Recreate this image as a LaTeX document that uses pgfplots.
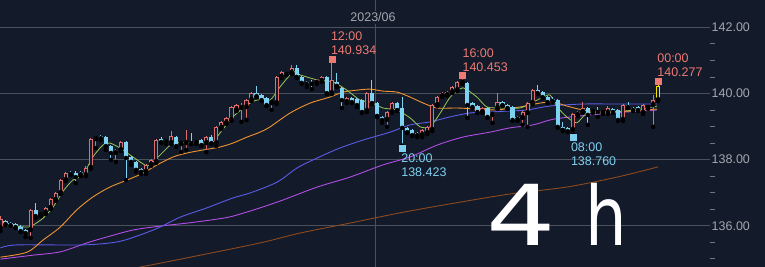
\documentclass[border=0pt]{standalone}
\usepackage{pgfplots}
\pgfplotsset{compat=1.18}
\usepackage{pgfplotstable}
\usepackage{fontspec}
\setmainfont{Liberation Sans}
\newfontfamily\dejavu{DejaVu Sans}
\definecolor{bgc}{HTML}{131A29}
\definecolor{gridc}{HTML}{4A505C}
\definecolor{tickc}{HTML}{70757F}
\definecolor{labc}{HTML}{A3A7AE}
\definecolor{bullc}{HTML}{DE6E6C}
\definecolor{bearc}{HTML}{7ED2F2}
\definecolor{hic}{HTML}{EE7A74}
\definecolor{loc}{HTML}{7FD0F0}
\definecolor{lastc}{HTML}{F0E400}
\definecolor{ma1}{HTML}{95C957}
\definecolor{ma2}{HTML}{F0942F}
\definecolor{ma3}{HTML}{5B5CE8}
\definecolor{ma4}{HTML}{B24DE6}
\definecolor{ma5}{HTML}{8E4A1E}
\newcommand{\lbl}{\fontsize{12.5}{15}\selectfont}

\pgfplotstableread{
k o h l c
0 135.93 136.29 135.84 136.20
6 135.87 136.51 135.63 136.48
8 136.32 136.42 136.29 136.39
9 136.39 136.57 136.35 136.54
10 136.54 136.84 136.51 136.81
11 136.78 137.02 136.75 136.99
12 136.99 137.41 136.96 137.38
13 137.38 137.63 137.35 137.59
17 137.53 137.81 137.50 137.75
18 137.75 138.65 137.72 138.62
19 138.62 138.71 138.35 138.68
23 138.20 138.32 137.93 138.29
24 138.29 138.56 138.26 138.53
29 137.63 137.87 137.56 137.84
30 137.84 138.02 137.81 137.99
31 137.93 138.62 137.90 138.59
34 138.50 138.86 138.47 138.71
36 138.47 138.56 138.23 138.53
37 138.50 138.90 138.29 138.53
39 138.50 138.59 138.47 138.56
41 138.50 138.71 138.23 138.68
43 138.50 139.02 138.41 138.99
44 138.96 139.17 138.93 139.14
45 139.11 139.29 139.08 139.26
46 139.20 139.62 139.17 139.59
47 139.50 139.68 139.47 139.65
48 139.56 139.71 139.14 139.59
49 139.59 139.83 139.20 139.80
50 139.80 140.04 139.77 140.01
54 139.71 139.77 139.50 139.74
55 139.71 140.53 139.68 140.50
56 140.50 140.68 140.47 140.65
58 140.62 140.86 140.59 140.77
63 140.32 140.44 140.29 140.41
64 140.38 140.53 140.35 140.50
66 140.01 140.934 139.98 140.41
69 139.74 139.89 139.71 139.86
73 139.47 140.04 139.44 140.01
77 139.20 139.47 138.99 139.44
78 139.44 139.74 139.41 139.71
84 138.74 138.93 138.68 138.90
85 138.80 139.02 138.77 138.99
86 138.90 139.68 138.86 139.65
87 139.65 139.92 139.62 139.89
88 139.92 140.04 139.89 140.01
89 139.95 140.07 139.92 140.04
90 140.04 140.23 140.01 140.20
91 140.10 140.38 140.07 140.35
92 140.32 140.453 140.29 140.38
96 139.44 139.59 139.41 139.56
98 139.35 139.44 139.11 139.41
99 139.56 140.01 139.53 139.74
103 139.20 139.32 139.17 139.29
104 139.26 139.47 139.05 139.44
105 139.41 139.74 138.99 139.71
106 139.71 140.13 139.68 140.10
114 138.90 139.41 138.760 139.38
115 139.35 139.47 139.32 139.44
116 139.44 139.74 139.41 139.56
118 139.44 139.53 139.41 139.50
120 139.41 139.50 139.38 139.47
121 139.41 139.62 139.38 139.56
124 139.20 139.68 139.17 139.65
128 139.41 139.68 139.38 139.65
129 139.56 139.62 139.53 139.59
130 139.65 139.95 138.99 139.80
}\bull

\pgfplotstableread{
k o h l c
1 136.14 136.17 136.02 136.05
2 136.08 136.11 135.99 136.02
3 136.05 136.08 135.93 135.96
4 135.96 136.02 135.81 135.84
5 135.87 135.90 135.66 135.78
7 136.48 136.69 136.23 136.29
14 137.59 137.66 137.53 137.56
15 137.59 137.66 137.29 137.47
16 137.63 137.66 137.50 137.56
20 138.71 138.74 138.59 138.65
21 138.68 138.71 138.29 138.41
22 138.41 138.44 137.99 138.20
25 138.53 138.56 137.38 138.05
26 138.08 138.11 137.84 137.93
27 137.93 137.96 137.63 137.69
28 137.72 137.75 137.56 137.63
32 138.62 138.68 138.50 138.53
33 138.59 138.62 138.47 138.56
35 138.68 138.71 138.38 138.41
38 138.53 138.80 138.47 138.50
40 138.59 138.62 138.41 138.44
42 138.68 138.74 138.47 138.50
51 140.01 140.23 139.89 139.92
52 139.95 139.98 139.77 139.80
53 139.86 139.89 139.62 139.65
57 140.62 140.65 140.56 140.59
59 140.77 140.86 140.47 140.50
60 140.50 140.53 140.29 140.32
61 140.35 140.38 140.20 140.29
62 140.32 140.41 140.13 140.29
65 140.50 140.53 139.98 140.01
67 140.35 140.62 140.20 140.23
68 140.17 140.20 139.56 139.80
70 139.86 139.89 139.71 139.74
71 139.83 139.86 139.59 139.65
72 139.80 139.83 139.41 139.44
74 140.01 140.41 139.68 139.71
75 139.71 139.74 139.29 139.32
76 139.29 139.32 139.11 139.20
79 139.71 139.74 139.47 139.50
80 139.56 139.89 138.423 138.96
81 138.96 138.99 138.80 138.83
82 138.90 138.93 138.71 138.74
83 138.80 138.83 138.68 138.74
93 140.32 140.35 139.26 139.65
94 139.71 139.74 139.56 139.59
95 139.62 139.65 139.41 139.44
97 139.56 139.59 139.26 139.29
100 139.74 139.77 139.62 139.65
101 139.65 139.68 139.53 139.56
102 139.59 139.62 139.17 139.20
107 140.10 140.26 139.98 140.01
108 140.04 140.07 139.86 139.89
109 139.89 139.92 139.71 139.74
110 139.83 139.89 139.74 139.77
111 139.80 139.83 138.96 138.99
112 138.99 139.14 138.86 138.90
113 138.96 138.99 138.83 138.86
117 139.56 139.59 139.05 139.35
119 139.47 139.59 139.29 139.44
122 139.53 139.56 139.41 139.44
123 139.50 139.53 139.17 139.20
125 139.65 139.74 139.56 139.59
126 139.56 139.59 139.47 139.50
127 139.59 139.62 139.47 139.50
}\bear

\pgfplotstableread{
k o h l c
131 139.80 140.277 139.77 140.23
}\last

\pgfplotsset{
  ebar/.style={only marks, mark=none, forget plot,
    error bars/.cd, y dir=plus, y explicit, error mark=none,
    error bar style={#1}},
}

\begin{document}
\begin{tikzpicture}
\fill[bgc] (0,0) rectangle (765pt,267pt);
\begin{axis}[
  at={(0pt,0pt)}, anchor=south west,
  scale only axis, width=710pt, height=267pt,
  xmin=-0.1, xmax=141.33,
  ymin=134.752, ymax=142.826,
  axis line style={draw=none},
  xtick={74.6}, xticklabels={}, xmajorgrids,
  ytick={136,138,140,142},
  minor ytick={135,135.5,136.5,137,137.5,138.5,139,139.5,140.5,141,141.5},
  ymajorgrids,
  grid style={color=gridc, line width=0.8pt},
  ytick pos=right, yticklabel pos=right,
  major tick length=0pt, minor tick length=5pt, tick align=outside,
  minor tick style={color=tickc, line width=0.8pt},
  yticklabel style={font=\lbl, color=labc, anchor=west, inner sep=1.5pt},
  yticklabel={\pgfmathprintnumber[fixed,fixed zerofill,precision=2,assume math mode=true]{\tick}},
  clip=true,
]
% moving averages
\addplot[color=ma5, line width=0.9pt, smooth] coordinates {(25,134.68) (27.8,134.75) (37.2,135.03) (51.7,135.48) (59.7,135.78) (69.6,136.08) (79.6,136.39) (89.5,136.66) (101.5,136.96) (112.8,137.17) (122.8,137.47) (131,137.78)};
\addplot[color=ma4, line width=0.9pt, smooth] coordinates {(0,134.99) (6.5,135.11) (11.9,135.21) (17.2,135.48) (21.2,135.66) (26.4,135.87) (31.8,135.99) (37.2,136.08) (43.1,136.20) (46.3,136.29) (51.7,136.54) (56.3,136.78) (63.1,137.17) (69.6,137.47) (76.2,137.84) (81.6,138.08) (87.0,138.44) (92.1,138.68) (97.5,138.83) (101.5,138.96) (106.1,139.05) (110.1,139.22) (116.0,139.33) (122.8,139.42) (130.8,139.50)};
\addplot[color=ma3, line width=0.9pt, smooth] coordinates {(0,135.33) (3.3,135.42) (16.4,135.42) (23.2,135.51) (27.8,135.72) (31.8,135.96) (35.8,136.26) (41.1,136.54) (46.3,136.84) (49.7,136.99) (55.1,137.32) (59.1,137.75) (63.1,138.05) (67.6,138.35) (72.2,138.59) (77.6,138.83) (81.6,139.05) (85.6,139.14) (89.5,139.29) (93.5,139.41) (97.5,139.44) (101.5,139.47) (104.9,139.50) (109.5,139.62) (116.0,139.68) (122.8,139.68) (130.8,139.68)};
\addplot[color=ma2, line width=0.9pt, smooth] coordinates {(0,135.05) (5.3,135.20) (8.5,135.57) (11.9,135.96) (15.2,136.48) (18.4,136.87) (21.8,137.17) (25.2,137.38) (28.4,137.59) (31.2,137.84) (34.4,138.08) (37.2,138.20) (40.3,138.29) (43.7,138.38) (46.3,138.50) (49.1,138.68) (51.7,138.83) (53.7,138.99) (57.7,139.41) (61.7,139.71) (65.6,139.89) (68.2,140.04) (71.0,140.10) (73.6,140.13) (76.2,140.07) (79.0,140.04) (81.6,139.89) (84.2,139.71) (87.0,139.56) (91.0,139.56) (94.9,139.53) (98.9,139.50) (101.5,139.56) (103.5,139.59) (107.5,139.71) (110.1,139.74) (112.8,139.62) (116.0,139.50) (119.4,139.44) (126.0,139.47) (130.8,139.53)};
\addplot[color=ma1, line width=0.8pt, smooth, tension=0.4] coordinates {(0,136.02) (5.3,135.96) (6.5,136.02) (8.5,136.23) (10.5,136.57) (12.5,137.05) (14.4,137.38) (16.4,137.53) (18.4,138.08) (20.4,138.44) (21.8,138.50) (23.8,138.35) (25.8,138.14) (27.8,137.93) (29.2,137.81) (30.4,137.93) (32.4,138.23) (34.4,138.50) (37.2,138.50) (39.7,138.50) (42.3,138.53) (43.7,138.80) (46.3,139.29) (49.1,139.65) (51.1,139.80) (53.7,139.80) (55.7,140.20) (58.3,140.65) (59.7,140.56) (63.1,140.41) (66.2,140.35) (69.0,140.10) (71.6,139.80) (73.6,139.74) (76.2,139.56) (79.0,139.50) (81.6,139.26) (83.6,138.99) (85.6,138.99) (87.6,139.41) (89.6,139.89) (92.1,140.17) (94.9,139.89) (96.9,139.59) (100.1,139.56) (103.5,139.56) (106.1,139.74) (108.1,139.89) (109.5,139.95) (110.9,139.59) (112.8,139.29) (114.8,139.11) (116.8,139.41) (119.4,139.41) (122.8,139.44) (126.0,139.50) (128.8,139.56) (130.8,139.62)};
% wicks
\addplot[ebar={bullc, line width=1pt}] table[x=k, y=l, y error plus expr=\thisrow{h}-\thisrow{l}] {\bull};
\addplot[ebar={bearc, line width=1pt}] table[x=k, y=l, y error plus expr=\thisrow{h}-\thisrow{l}] {\bear};
\addplot[ebar={lastc, line width=1pt}] table[x=k, y=l, y error plus expr=\thisrow{h}-\thisrow{l}] {\last};
% bodies
\addplot[ebar={bearc, line width=4.2pt}] table[x=k, y=c, y error plus expr={max(\thisrow{o}-\thisrow{c},0.03)}] {\bear};
\addplot[ebar={bullc, line width=4.2pt}] table[x=k, y=o, y error plus expr={max(\thisrow{c}-\thisrow{o},0.03)}] {\bull};
\addplot[ebar={bgc, line width=2.2pt}] table[x=k, y expr=\thisrow{o}+0.03, y error plus expr={max(\thisrow{c}-\thisrow{o}-0.06,0)}] {\bull};
\addplot[ebar={lastc, line width=4.2pt}] table[x=k, y=o, y error plus expr={max(\thisrow{c}-\thisrow{o},0.03)}] {\last};
\addplot[ebar={bgc, line width=2.2pt}] table[x=k, y expr=\thisrow{o}+0.03, y error plus expr={max(\thisrow{c}-\thisrow{o}-0.06,0)}] {\last};
% high / low markers
\addplot[only marks, mark=square*, mark size=3pt, color=hic, mark options={yshift=3pt}] coordinates {(66,140.934) (92,140.453) (131,140.277)};
\addplot[only marks, mark=square*, mark size=3pt, color=loc, mark options={yshift=-3pt}] coordinates {(80,138.423) (114,138.760)};
% annotations
\node[anchor=base west, text=hic, font=\lbl, inner sep=0pt, xshift=-1pt, yshift=22.4pt] at (axis cs:66,140.934) {12:00};
\node[anchor=base west, text=hic, font=\lbl, inner sep=0pt, xshift=-1pt, yshift=7.6pt] at (axis cs:66,140.934) {140.934};
\node[anchor=base west, text=hic, font=\lbl, inner sep=0pt, xshift=0pt, yshift=21.4pt] at (axis cs:92,140.453) {16:00};
\node[anchor=base west, text=hic, font=\lbl, inner sep=0pt, xshift=0pt, yshift=6.6pt] at (axis cs:92,140.453) {140.453};
\node[anchor=base west, text=hic, font=\lbl, inner sep=0pt, xshift=-1pt, yshift=21.3pt] at (axis cs:131,140.277) {00:00};
\node[anchor=base west, text=hic, font=\lbl, inner sep=0pt, xshift=-1pt, yshift=7.3pt] at (axis cs:131,140.277) {140.277};
\node[anchor=base west, text=loc, font=\lbl, inner sep=0pt, xshift=-1pt, yshift=-17pt] at (axis cs:80,138.423) {20:00};
\node[anchor=base west, text=loc, font=\lbl, inner sep=0pt, xshift=-1pt, yshift=-31pt] at (axis cs:80,138.423) {138.423};
\node[anchor=base west, text=loc, font=\lbl, inner sep=0pt, xshift=-2pt, yshift=-17.3pt] at (axis cs:114,138.760) {08:00};
\node[anchor=base west, text=loc, font=\lbl, inner sep=0pt, xshift=-2pt, yshift=-31.3pt] at (axis cs:114,138.760) {138.760};
\node[anchor=base, text=labc, font=\lbl, fill=bgc, inner sep=2pt, xshift=-2pt, yshift=-22pt] at (axis cs:74.6,142.826) {2023/06};
\end{axis}
\node[anchor=base, text=white, font={\dejavu\fontsize{84}{84}\selectfont}, inner sep=0pt] at (521pt,21pt) {\scalebox{1.3}[1]{4}};
\node[anchor=base, text=white, font={\dejavu\fontsize{82}{82}\selectfont}, inner sep=0pt] at (606pt,21pt) {\scalebox{0.8}[1]{h}};
\pgfresetboundingbox
\path[use as bounding box] (0,0) rectangle (765pt,267pt);
\end{tikzpicture}
\end{document}
